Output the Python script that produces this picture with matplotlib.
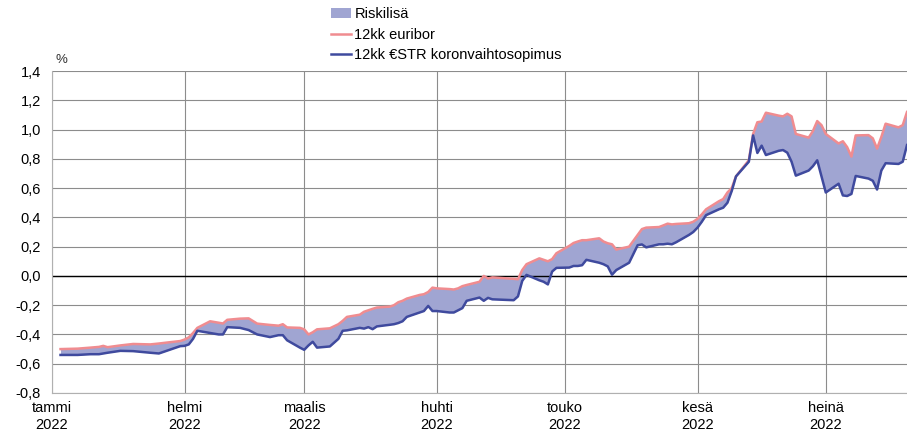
import matplotlib.pyplot as plt
from matplotlib.patches import Patch
from matplotlib.lines import Line2D
import pandas as pd

plt.rcParams['font.family'] = ['Liberation Sans', 'DejaVu Sans']
plt.rcParams['font.size'] = 10

# Päivämäärät (2022)
dates = [
    "01-03", "01-07", "01-10", "01-12", "01-13", "01-14", "01-17", "01-20", "01-24", "01-26", "01-28", "01-31",
    "02-01", "02-02", "02-03", "02-04", "02-07", "02-09", "02-10", "02-11", "02-14", "02-16", "02-18", "02-21",
    "02-23", "02-24", "02-25", "02-28",
    "03-01", "03-02", "03-03", "03-04", "03-07", "03-09", "03-10", "03-11", "03-14", "03-15", "03-16", "03-17",
    "03-18", "03-21", "03-22", "03-23", "03-24", "03-25", "03-28", "03-29", "03-30", "03-31",
    "04-01", "04-04", "04-05", "04-06", "04-07", "04-08", "04-11", "04-12", "04-13", "04-14", "04-19", "04-20",
    "04-21", "04-22", "04-25", "04-26", "04-27", "04-28", "04-29",
    "05-02", "05-03", "05-04", "05-05", "05-06", "05-09", "05-10", "05-11", "05-12", "05-13", "05-16", "05-17",
    "05-18", "05-19", "05-20", "05-23", "05-24", "05-25", "05-26", "05-27", "05-30", "05-31",
    "06-01", "06-02", "06-03", "06-06", "06-07", "06-08", "06-09", "06-10", "06-13", "06-14", "06-15", "06-16",
    "06-17", "06-20", "06-21", "06-22", "06-23", "06-24", "06-27", "06-28", "06-29", "06-30",
    "07-01", "07-04", "07-05", "07-06", "07-07", "07-08", "07-11", "07-12", "07-13", "07-14", "07-15", "07-18",
    "07-19", "07-20",
]

# 12kk euribor (%)
euribor = [
    -0.50, -0.497, -0.49, -0.485, -0.478, -0.487, -0.475, -0.465, -0.468, -0.462, -0.455, -0.445,
    -0.435, -0.42, -0.39, -0.355, -0.31, -0.32, -0.325, -0.30, -0.292, -0.29, -0.326, -0.335,
    -0.34, -0.33, -0.352, -0.355,
    -0.365, -0.40, -0.385, -0.365, -0.358, -0.33, -0.307, -0.28, -0.265, -0.245, -0.235, -0.225,
    -0.216, -0.21, -0.20, -0.18, -0.17, -0.155, -0.13, -0.125, -0.11, -0.08,
    -0.085, -0.09, -0.093, -0.085, -0.07, -0.062, -0.04, 0.0, -0.018, -0.01, -0.02, -0.023,
    0.04, 0.08, 0.12, 0.11, 0.10, 0.115, 0.155,
    0.205, 0.225, 0.235, 0.244, 0.244, 0.257, 0.235, 0.223, 0.216, 0.18, 0.20, 0.24,
    0.28, 0.32, 0.33, 0.334, 0.345, 0.357, 0.352, 0.355, 0.36, 0.37,
    0.39, 0.42, 0.455, 0.51, 0.525, 0.57, 0.60, 0.68, 0.79, 0.97, 1.05, 1.055,
    1.115, 1.095, 1.09, 1.108, 1.09, 0.97, 0.945, 0.99, 1.058, 1.03,
    0.97, 0.905, 0.92, 0.88, 0.815, 0.96, 0.962, 0.94, 0.87, 0.95, 1.04, 1.015,
    1.03, 1.12,
]

# 12kk €STR koronvaihtosopimus (%)
estr = [
    -0.54, -0.54, -0.535, -0.535, -0.53, -0.525, -0.512, -0.514, -0.525, -0.53, -0.51, -0.48,
    -0.478, -0.468, -0.43, -0.375, -0.39, -0.40, -0.40, -0.35, -0.355, -0.37, -0.40, -0.418,
    -0.405, -0.405, -0.44, -0.49,
    -0.505, -0.475, -0.45, -0.49, -0.482, -0.43, -0.375, -0.372, -0.355, -0.36, -0.35, -0.364,
    -0.345, -0.334, -0.33, -0.322, -0.31, -0.28, -0.25, -0.24, -0.205, -0.24,
    -0.24, -0.25, -0.25, -0.235, -0.22, -0.17, -0.148, -0.17, -0.15, -0.16, -0.166, -0.14,
    -0.034, 0.007, -0.03, -0.04, -0.058, 0.03, 0.055,
    0.057, 0.068, 0.068, 0.073, 0.11, 0.09, 0.08, 0.065, 0.008, 0.04, 0.09, 0.15,
    0.21, 0.215, 0.195, 0.216, 0.216, 0.22, 0.216, 0.23, 0.28, 0.30,
    0.33, 0.37, 0.415, 0.455, 0.466, 0.50, 0.58, 0.68, 0.78, 0.96, 0.84, 0.89,
    0.826, 0.855, 0.86, 0.842, 0.78, 0.685, 0.72, 0.75, 0.79, 0.68,
    0.57, 0.63, 0.55, 0.546, 0.56, 0.683, 0.665, 0.65, 0.59, 0.72, 0.77, 0.765,
    0.78, 0.894,
]

months = ["tammi", "helmi", "maalis", "huhti", "touko", "kesä", "heinä"]

x = pd.to_datetime(["2022-" + d for d in dates])

fill_color = '#a0a5d2'
eur_color = '#f08c90'
estr_color = '#3f4a9e'

fig = plt.figure(figsize=(9.07, 4.37), dpi=100)
ax = fig.add_axes([0.0573, 0.1007, 0.9427, 0.7368])

ax.fill_between(x, euribor, estr, color=fill_color, linewidth=0)
ax.plot(x, euribor, color=eur_color, linewidth=1.8)
ax.plot(x, estr, color=estr_color, linewidth=1.8)

# Akselit
month_starts = pd.date_range("2022-01-01", periods=7, freq="MS")
ax.set_xlim(pd.Timestamp("2022-01-01"), x[-1])
ax.set_ylim(-0.8, 1.4)
ax.set_xticks(month_starts)
ax.set_xticklabels([m + "\n2022" for m in months], fontsize=10.5)
yt = [-0.8 + 0.2 * i for i in range(12)]
ax.set_yticks(yt)
ax.set_yticklabels([f"{v:.1f}".replace(".", ",") for v in yt], fontsize=10.5)
ax.tick_params(length=0, pad=8)
ax.tick_params(axis='x', pad=6)

ax.grid(True, color='#8c8c8c', linewidth=0.8)
ax.set_axisbelow(True)
ax.axhline(0, color='black', linewidth=1.0, zorder=1.5)

for s in ['top', 'right']:
    ax.spines[s].set_visible(False)
for s in ['left', 'bottom']:
    ax.spines[s].set_color('#b0b0b0')

fig.text(0.061, 0.855, "%", fontsize=9.5, color='#333333')

handles = [
    Patch(facecolor=fill_color, edgecolor='none'),
    Line2D([], [], color=eur_color, linewidth=1.8),
    Line2D([], [], color=estr_color, linewidth=1.8),
]
labels = ["Riskilisä", "12kk euribor", "12kk €STR koronvaihtosopimus"]
fig.legend(handles, labels, loc='upper left', bbox_to_anchor=(0.352, 1.01),
           frameon=False, fontsize=10.5, handlelength=1.4, handletextpad=0.2,
           labelspacing=0.45, borderpad=0.3)

fig.savefig("out.png", dpi=100)
